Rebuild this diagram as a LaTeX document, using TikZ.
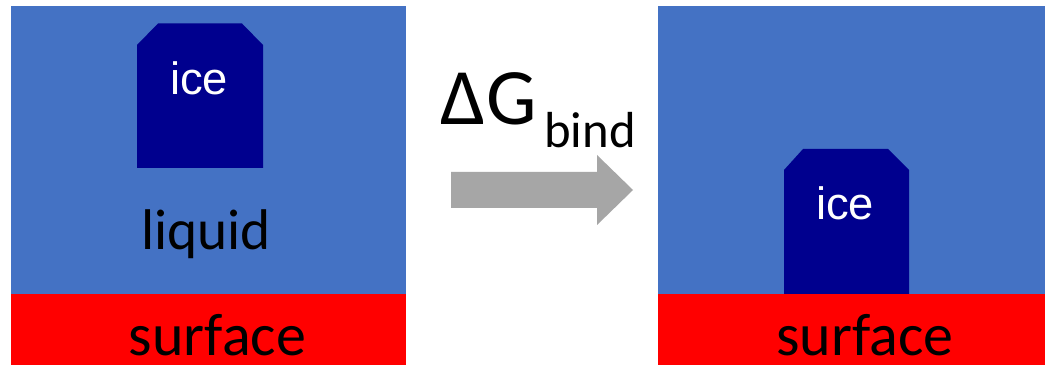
\documentclass[tikz,border=0pt]{standalone}
\usepackage{fontspec}
\setmainfont{Carlito}
\newfontfamily\icefont{Liberation Sans}
\definecolor{water}{HTML}{4472C4}
\definecolor{icecol}{HTML}{00008E}
\definecolor{surf}{HTML}{FF0000}
\definecolor{arrgray}{HTML}{A6A6A6}
\tikzset{
  lbl/.style={inner sep=0pt, anchor=base, text=black},
  icelbl/.style={inner sep=0pt, anchor=base, text=white, font=\icefont\fontsize{34}{34}\selectfont},
  bigtxt/.style={font=\fontsize{43}{43}\selectfont},
  surftxt/.style={lbl, text depth=0pt, font=\fontsize{45}{45}\selectfont},
}
\begin{document}
\begin{tikzpicture}[x=0.75pt,y=-0.75pt]
\useasboundingbox (0,0) rectangle (1045,366);
\fill[white] (0,0) rectangle (1045,366);
% left panel
\fill[water] (11,6.5) rectangle (406,294);
\fill[surf] (11,294) rectangle (406,365);
\fill[icecol] (137,168) -- (137,45) -- (158,23.5) -- (242,23.5) -- (263,45) -- (263,168) -- cycle;
\node[icelbl] (iceL) at (199,95) {ice};
\node[lbl,bigtxt] (liquid) at (206,250) {liquid};
\node[surftxt] (surfL) at (217.5,355) {surface};
% arrow
\fill[arrgray] (451,172) -- (597,172) -- (597,155) -- (633,190) -- (597,225) -- (597,208) -- (451,208) -- cycle;
\node[inner sep=0pt, anchor=base west, font=\fontsize{60}{60}\selectfont] (dG) at (440,125) {Δ\kern1pt G};
\node[inner sep=0pt, anchor=base west, font=\fontsize{38}{38}\selectfont] (bind) at (544,148) {bind};
% right panel
\fill[water] (658,6.5) rectangle (1045,294);
\fill[surf] (658,294) rectangle (1045,365);
\fill[icecol] (784,294) -- (784,170) -- (803,149) -- (888,149) -- (909,170) -- (909,294) -- cycle;
\node[icelbl] (iceR) at (845,220) {ice};
\node[surftxt] (surfR) at (865,355) {surface};
\end{tikzpicture}
\end{document}
